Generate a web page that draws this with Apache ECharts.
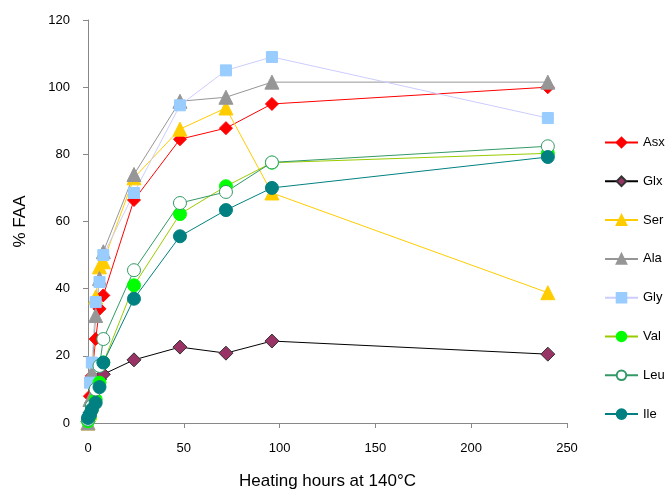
<!DOCTYPE html>
<html><head><meta charset="utf-8">
<script src="https://cdn.jsdelivr.net/npm/echarts@6/dist/echarts.min.js"></script>
<style>html,body{margin:0;padding:0;background:#fff}#c{width:668px;height:489px}</style>
</head><body><div id="c"></div>
<script>
const hours = [0, 1, 2, 4, 6, 8, 24, 48, 72, 96, 240];
const seriesNames = ['Asx','Glx','Ser','Ala','Gly','Val','Leu','Ile'];
const Asx = [1, 8, 14, 25, 34, 38, 66.4, 84.5, 87.8, 95, 100];
const Glx = [0.5, 3, 6, 10, 13, 14.5, 18.8, 22.6, 20.8, 24.4, 20.5];
const Ser = [0, 3, 7, 37.5, 46.5, 48, 73, 87.5, 93.8, 68.5, 38.8];
const Ala = [0, 7, 15, 32, 43, 51, 74, 95.8, 97, 101.5, 101.5];
const Gly = [1, 12, 18, 36, 42, 50, 68.5, 94.6, 105, 109, 90.8];
const Val = [0.5, 2, 4, 7, 12, 18, 41, 62.2, 70.5, 77.5, 80.3];
const Leu = [1, 2.5, 5, 10, 17, 25, 45.5, 65.5, 68.8, 77.6, 82.4];
const Ile = [1.5, 2.5, 4, 6, 10.7, 18, 37, 55.6, 63.4, 70, 79.2];
const yTicks = [0, 20, 40, 60, 80, 100, 120];
const xTicks = [0, 50, 100, 150, 200, 250];

const values = [Asx, Glx, Ser, Ala, Gly, Val, Leu, Ile];
const styles = [
  {line:'#FF0000', fill:'#FF0000', border:'#FF0000', sym:'diamond', size:13},
  {line:'#000000', fill:'#993366', border:'#333333', sym:'diamond', size:14},
  {line:'#FFCC00', fill:'#FFCC00', border:'#FFCC00', sym:'triangle', size:14},
  {line:'#969696', fill:'#969696', border:'#969696', sym:'triangle', size:14},
  {line:'#CCCCFF', fill:'#99CCFF', border:'#99CCFF', sym:'rect', size:11},
  {line:'#99CC00', fill:'#00FF00', border:'#00FF00', sym:'circle', size:13},
  {line:'#339966', fill:'#FFFFFF', border:'#339966', sym:'circle', size:13},
  {line:'#008080', fill:'#008080', border:'#008080', sym:'circle', size:13}
];
const font = 'Liberation Sans, Arial, sans-serif';
const series = seriesNames.map((n, i) => ({
  name: n, type: 'line',
  data: hours.map((h, j) => [h, values[i][j]]),
  symbol: styles[i].sym, symbolSize: styles[i].size,
  lineStyle: {color: styles[i].line, width: 1},
  itemStyle: {color: styles[i].fill, borderColor: styles[i].border, borderWidth: 1},
  emphasis: {disabled: true},
  animation: false
}));
const chart = echarts.init(document.getElementById('c'), null, {renderer: 'canvas'});
chart.setOption({
  animation: false,
  grid: {left: 88, top: 20, right: 101, bottom: 66, containLabel: false, outerBoundsMode: 'none'},
  xAxis: {
    type: 'value', min: xTicks[0], max: xTicks[xTicks.length-1], interval: 50,
    name: 'Heating hours at 140°C', nameLocation: 'middle', nameGap: 50,
    nameTextStyle: {fontFamily: font, fontSize: 17, color: '#000'},
    axisLine: {lineStyle: {color: '#888', width: 1}},
    axisTick: {show: true, inside: false, length: 5, lineStyle: {color: '#888'}},
    axisLabel: {fontFamily: font, fontSize: 13, color: '#000', margin: 19},
    splitLine: {show: false}
  },
  yAxis: {
    type: 'value', min: yTicks[0], max: yTicks[yTicks.length-1], interval: 20,
    name: '% FAA', nameLocation: 'middle', nameGap: 59, nameRotate: 90,
    nameTextStyle: {fontFamily: font, fontSize: 17, color: '#000'},
    axisLine: {show: true, lineStyle: {color: '#888', width: 1}},
    axisTick: {show: true, inside: false, length: 5, lineStyle: {color: '#888'}},
    axisLabel: {fontFamily: font, fontSize: 13, color: '#000', margin: 18},
    splitLine: {show: false}
  },
  legend: {
    orient: 'vertical', left: 599, top: 131,
    itemWidth: 33, itemHeight: 12, itemGap: 25.8,
    textStyle: {fontFamily: font, fontSize: 13, color: '#000'},
    data: seriesNames
  },
  series: series
});
</script></body></html>
